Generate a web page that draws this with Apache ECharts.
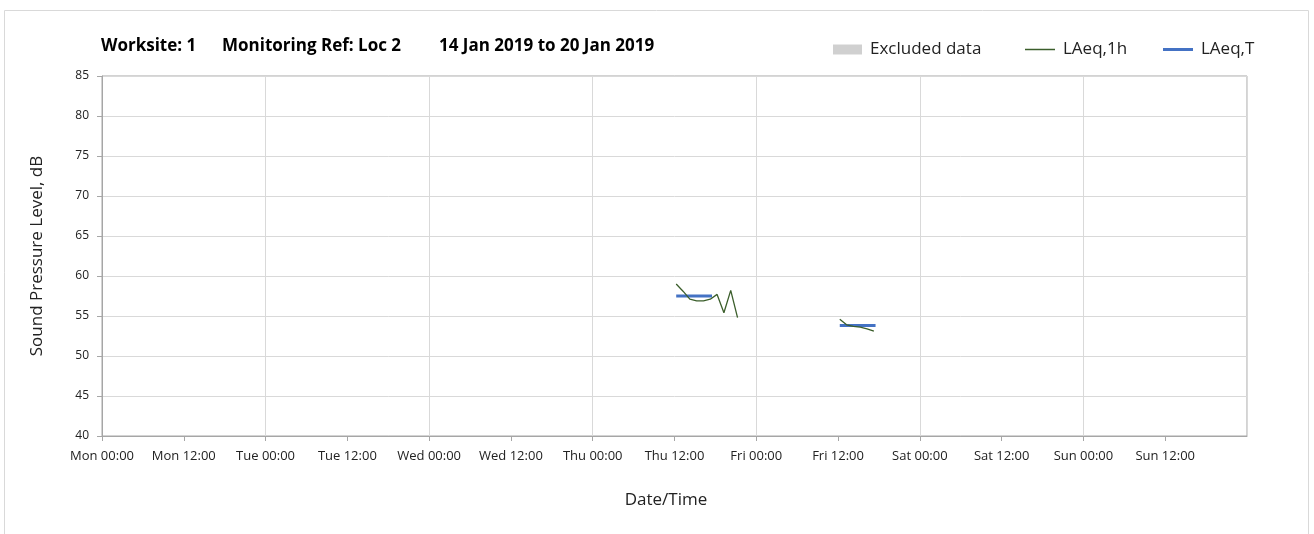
<!DOCTYPE html>
<html>
<head>
<meta charset="utf-8">
<script src="https://cdn.jsdelivr.net/npm/echarts@6/dist/echarts.min.js"></script>
<style>
    html, body {margin: 0; padding: 0; background: #fff;}
    #chart {width: 1314px; height: 534px;}
</style>
</head>
<body>
<div id="chart"></div>
<script>
// hourly LAeq,1h readings (gap between days)
const laeq1hThuTimes = ['2019-01-17 12:15', '2019-01-17 13:15', '2019-01-17 14:15', '2019-01-17 15:15', '2019-01-17 16:15',
    '2019-01-17 17:15', '2019-01-17 18:15', '2019-01-17 19:15', '2019-01-17 20:15', '2019-01-17 21:15']
const laeq1hThuValues = [59.0, 58.1, 57.1, 56.9, 56.9, 57.1, 57.7, 55.4, 58.2, 54.8]
const laeq1hFriTimes = ['2019-01-18 12:15', '2019-01-18 13:15', '2019-01-18 14:15', '2019-01-18 15:15', '2019-01-18 16:15',
    '2019-01-18 17:15']
const laeq1hFriValues = [54.6, 53.9, 53.7, 53.6, 53.4, 53.1]

// LAeq,T periods: start, end, level
const laeqTStarts = ['2019-01-17 12:15', '2019-01-18 12:15']
const laeqTEnds = ['2019-01-17 17:30', '2019-01-18 17:30']
const laeqTValues = [57.5, 53.8]

const dayNames = ['Mon', 'Tue', 'Wed', 'Thu', 'Fri', 'Sat', 'Sun']
const tickHours = ['00:00', '12:00']

// hours since Mon 14 Jan 2019 00:00
function toHours(s) {
    let day = Number(s.slice(8, 10)) - 14
    return day * 24 + Number(s.slice(11, 13)) + Number(s.slice(14, 16)) / 60
}

let greenData = []
laeq1hThuTimes.forEach((t, i) => greenData.push([toHours(t), laeq1hThuValues[i]]))
greenData.push([toHours(laeq1hThuTimes[laeq1hThuTimes.length - 1]) + 1, null])
laeq1hFriTimes.forEach((t, i) => greenData.push([toHours(t), laeq1hFriValues[i]]))

let blueData = []
laeqTStarts.forEach((t, i) => {
    blueData.push([toHours(t), laeqTValues[i]])
    blueData.push([toHours(laeqTEnds[i]), laeqTValues[i]])
    blueData.push([toHours(laeqTEnds[i]) + 1, null])
})

const font = 'Open Sans'
const titleStyle = {fontSize: 17, fontWeight: 'bold', color: '#000', fontFamily: font}
const legendText = {fontSize: 17, color: '#222', fontFamily: font, padding: [0, 0, 0, 3]}

let chartDom = document.getElementById('chart')
let myChart = echarts.init(chartDom)

let option = {
    animation: false,
    textStyle: {fontFamily: font},
    graphic: [{
        type: 'rect',
        shape: {x: 4.5, y: 10.5, width: 1304, height: 540},
        style: {fill: 'none', stroke: '#d9d9d9', lineWidth: 1},
        silent: true
    }],
    title: [
        {text: 'Worksite: 1', left: 101, top: 38, padding: 0, textStyle: titleStyle},
        {text: 'Monitoring Ref: Loc 2', left: 222, top: 38, padding: 0, textStyle: titleStyle},
        {text: '14 Jan 2019 to 20 Jan 2019', left: 439, top: 38, padding: 0, textStyle: titleStyle}
    ],
    legend: [{
        left: 833, top: 41, padding: 0, itemWidth: 29, itemHeight: 10, itemGap: 0,
        icon: 'rect', textStyle: legendText, data: ['Excluded data']
    }, {
        left: 1025, top: 41, padding: 0, itemWidth: 30, itemHeight: 1.5, itemGap: 0,
        icon: 'rect', textStyle: legendText, data: ['LAeq,1h']
    }, {
        left: 1163, top: 41, padding: 0, itemWidth: 30, itemHeight: 3, itemGap: 0,
        icon: 'rect', textStyle: legendText, data: ['LAeq,T']
    }],
    grid: {
        left: 102,
        right: 67,
        top: 76,
        bottom: 98,
        show: true,
        borderColor: '#a6a6a6',
        borderWidth: 1
    },
    xAxis: [{
        type: 'value',
        min: 0,
        max: 168,
        interval: 12,
        name: 'Date/Time',
        nameLocation: 'middle',
        nameGap: 56,
        nameTextStyle: {fontSize: 17, color: '#222', fontFamily: font, padding: [0, 17, 0, 0]},
        axisLine: {lineStyle: {color: '#a6a6a6'}},
        axisTick: {show: true, length: 5, lineStyle: {color: '#a6a6a6'}},
        axisLabel: {
            margin: 14,
            fontSize: 13,
            color: '#222',
            showMaxLabel: false,
            formatter: (v) => dayNames[Math.floor(v / 24) % 7] + ' ' + tickHours[(v % 24) / 12]
        },
        splitLine: {show: false}
    }, {
        type: 'value',
        min: 0,
        max: 168,
        interval: 24,
        position: 'bottom',
        axisLine: {show: false},
        axisTick: {show: false},
        axisLabel: {show: false},
        splitLine: {show: true, lineStyle: {color: '#d9d9d9'}}
    }],
    yAxis: {
        type: 'value',
        min: 40,
        max: 85,
        interval: 5,
        name: 'Sound Pressure Level, dB',
        nameLocation: 'middle',
        nameGap: 56,
        nameTextStyle: {fontSize: 17, color: '#222', fontFamily: font},
        axisLine: {show: true, lineStyle: {color: '#a6a6a6'}},
        axisTick: {show: true, length: 5, lineStyle: {color: '#a6a6a6'}},
        axisLabel: {margin: 13, fontSize: 12, color: '#222'},
        splitLine: {lineStyle: {color: '#d9d9d9'}}
    },
    series: [{
        name: 'Excluded data',
        type: 'bar',
        data: [],
        itemStyle: {color: '#d0d0d0'}
    }, {
        name: 'LAeq,T',
        type: 'line',
        data: blueData,
        symbol: 'none',
        connectNulls: false,
        lineStyle: {color: '#4472c4', width: 3},
        itemStyle: {color: '#4472c4'},
        z: 2
    }, {
        name: 'LAeq,1h',
        type: 'line',
        data: greenData,
        symbol: 'none',
        connectNulls: false,
        lineStyle: {color: '#3b5e2b', width: 1.3},
        itemStyle: {color: '#3b5e2b'},
        z: 3
    }]
}
myChart.setOption(option)

window.addEventListener('resize', () => {
    myChart.resize()
})
</script>
</body>
</html>
